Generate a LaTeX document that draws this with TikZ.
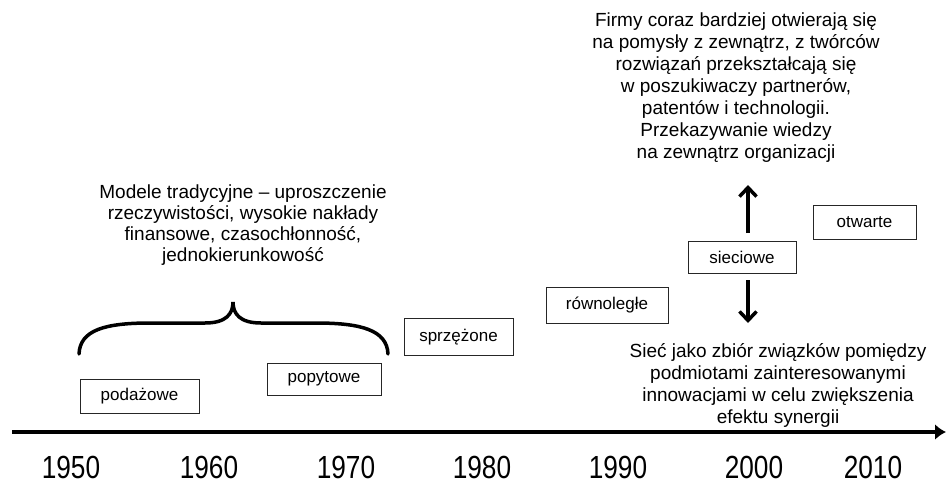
\documentclass[tikz,border=0pt]{standalone}
\usepackage{fontspec}
\setmainfont{Liberation Sans}
\newfontfamily\narrowfont{Liberation Sans}[FakeStretch=0.82]
\usetikzlibrary{arrows.meta}
\begin{document}
\begin{tikzpicture}[x=1pt,y=-1pt,
  box/.style={draw=black!85,line width=0.9pt,inner sep=0pt,font=\fontsize{17}{20}\selectfont},
  txt/.style={align=center,inner sep=0pt,font=\fontsize{19}{22}\selectfont},
  year/.style={inner sep=0pt,font=\fontsize{32}{36}\narrowfont},
  bigarrow/.style={line width=3.5pt,-{Straight Barb[length=9pt,width=17pt,line width=3.5pt]}}]
\useasboundingbox (0,0) rectangle (946,480);
% axis
\coordinate (axL) at (12,432);
\coordinate (axR) at (946,432);
\draw[line width=4pt,-{Latex[length=11pt,width=16pt]}] (axL) -- (axR);
% years
\node[year] (y1950) at (71,467) {1950};
\node[year] (y1960) at (209,467) {1960};
\node[year] (y1970) at (346,467) {1970};
\node[year] (y1980) at (482,467) {1980};
\node[year] (y1990) at (618,467) {1990};
\node[year] (y2000) at (754,467) {2000};
\node[year] (y2010) at (873,467) {2010};
% boxes
\node[box,minimum width=119pt,minimum height=34pt] (pod) at (139.5,396) {podażowe};
\node[box,minimum width=114pt,minimum height=32pt] (pop) at (324,379) {popytowe};
\node[box,minimum width=109pt,minimum height=37pt] (spr) at (458.5,337) {sprzężone};
\node[box,minimum width=122pt,minimum height=36pt] (row) at (607,305) {równoległe};
\node[box,minimum width=108pt,minimum height=32pt] (sie) at (742,257) {sieciowe};
\node[box,minimum width=103pt,minimum height=34pt] (otw) at (864.5,222) {otwarte};
% brace
\draw[line width=3.5pt,line cap=round] (79,354) .. controls (80,330) and (105,323) .. (150,323)
  -- (205,323) .. controls (226,323) and (233,314) .. (233,302)
  .. controls (233,314) and (240,323) .. (261,323) -- (316,323)
  .. controls (361,323) and (387,330) .. (388,354);
% texts
\node[txt,font=\fontsize{19}{21}\selectfont] (trad) at (243,225) {Modele tradycyjne -- uproszczenie\\rzeczywistości, wysokie nakłady\\finansowe, czasochłonność,\\jednokierunkowość};
\node[txt] (firmy) at (736,88) {Firmy coraz bardziej otwierają się\\na pomysły z zewnątrz, z twórców\\rozwiązań przekształcają się\\w poszukiwaczy partnerów,\\patentów i technologii.\\Przekazywanie wiedzy\\na zewnątrz organizacji};
\node[txt] (siec) at (778,385) {Sieć jako zbiór związków pomiędzy\\podmiotami zainteresowanymi\\innowacjami w celu zwiększenia\\efektu synergii};
% arrows
\coordinate (upS) at (748,233);
\coordinate (upE) at (748,185);
\coordinate (dnS) at (748,280);
\coordinate (dnE) at (748,323);
\draw[bigarrow] (upS) -- (upE);
\draw[bigarrow] (dnS) -- (dnE);
\end{tikzpicture}
\end{document}
